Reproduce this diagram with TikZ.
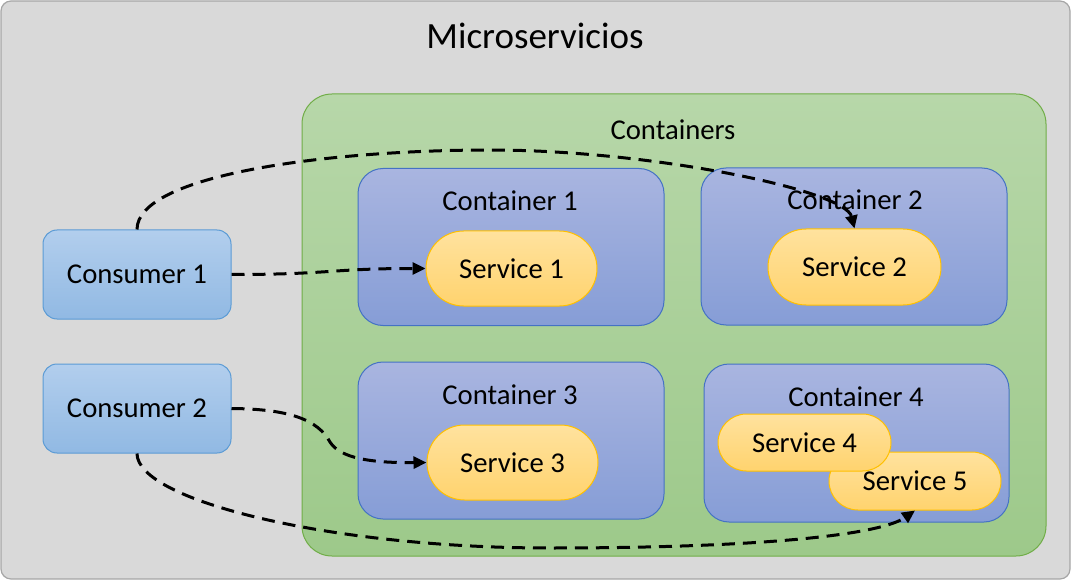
\documentclass[tikz,border=0pt]{standalone}
\usepackage{fontspec}
\setmainfont{Carlito}
\usetikzlibrary{arrows.meta}
\definecolor{outerfill}{RGB}{217,217,217}
\definecolor{outerline}{RGB}{166,166,166}
\definecolor{greentop}{RGB}{183,215,169}
\definecolor{greenbot}{RGB}{157,201,138}
\definecolor{greenline}{RGB}{112,173,71}
\definecolor{conttop}{RGB}{169,181,224}
\definecolor{contbot}{RGB}{134,157,214}
\definecolor{contline}{RGB}{68,114,196}
\definecolor{constop}{RGB}{178,206,237}
\definecolor{consbot}{RGB}{145,185,227}
\definecolor{consline}{RGB}{91,155,213}
\definecolor{servtop}{RGB}{255,226,158}
\definecolor{servbot}{RGB}{255,211,110}
\definecolor{servline}{RGB}{255,192,0}
\tikzset{
  lbl/.style={font=\fontsize{28.7}{34}\selectfont, inner sep=0pt},
  outerbox/.style={draw=outerline, line width=1.2pt, fill=outerfill, rounded corners=10pt, inner sep=0pt},
  greenbox/.style={draw=greenline, line width=1pt, top color=greentop, bottom color=greenbot, rounded corners=30pt, inner sep=0pt},
  contbox/.style={draw=contline, line width=1pt, top color=conttop, bottom color=contbot, rounded corners=25pt, inner sep=0pt, minimum width=306pt, minimum height=157pt},
  consbox/.style={draw=consline, line width=1pt, top color=constop, bottom color=consbot, rounded corners=14pt, inner sep=0pt, minimum width=188pt, minimum height=89pt, font=\fontsize{28.7}{34}\selectfont},
  servbox/.style={draw=servline, line width=1pt, top color=servtop, bottom color=servbot, inner sep=0pt, font=\fontsize{28.7}{34}\selectfont},
  flow/.style={line width=3pt, dash pattern=on 13pt off 8pt, -{Triangle[length=13pt,width=12pt]}}
}
\begin{document}
\begin{tikzpicture}[x=1pt,y=-1pt]
\useasboundingbox (0,0) rectangle (1071,580);
\node[outerbox, minimum width=1069pt, minimum height=578pt] (outer) at (535.5,290) {};
\node[lbl, font=\fontsize{37}{44}\selectfont] (title) at (535,36) {Microservicios};
\node[greenbox, minimum width=744pt, minimum height=462pt] (green) at (674,325) {};
\node[lbl] (greenlbl) at (673,130) {Containers};

\node[contbox] (k1) at (511,247) {};
\node[contbox] (k2) at (854,246.5) {};
\node[contbox] (k3) at (511,440.5) {};
\node[contbox, minimum width=305pt, minimum height=158pt] (k4) at (856.5,443) {};
\node[lbl] (k1l) at (510,201) {Container 1};
\node[lbl] (k2l) at (855,200) {Container 2};
\node[lbl] (k3l) at (510,395) {Container 3};
\node[lbl] (k4l) at (856,397) {Container 4};

\node[servbox, minimum width=171pt, minimum height=75pt, rounded corners=37.5pt] (s1) at (511.5,268.5) {Service 1};
\node[servbox, minimum width=173pt, minimum height=76pt, rounded corners=38pt] (s2) at (854.5,267) {Service 2};
\node[servbox, minimum width=171pt, minimum height=75pt, rounded corners=37.5pt] (s3) at (512.5,462.5) {Service 3};
\node[servbox, minimum width=172pt, minimum height=58pt, rounded corners=29pt] (s5) at (915,481) {Service 5};
\node[servbox, minimum width=173pt, minimum height=57pt, rounded corners=28.5pt] (s4) at (804.5,442.5) {Service 4};

\node[consbox] (c1) at (137,274.5) {Consumer 1};
\node[consbox] (c2) at (137,408.5) {Consumer 2};

\coordinate (w1) at (490,150);
\coordinate (w2) at (550,548);
\coordinate (w3) at (330,442);

\draw[flow] (c1.east) .. controls +(100,0) and +(-95,0) .. (s1.west);
\draw[flow] (c1.north) .. controls +(0,-55) and (330,150) .. (w1) .. controls (650,150) and (845,190) .. (s2.north);
\draw[flow] (c2.east) .. controls (290,409) and (318,420) .. (w3) .. controls (340,458) and (370,463) .. (s3.west);
\draw[flow] (c2.south) .. controls +(0,47) and (330,548) .. (w2) .. controls (760,548) and (880,535) .. (s5.south);
\end{tikzpicture}
\end{document}
